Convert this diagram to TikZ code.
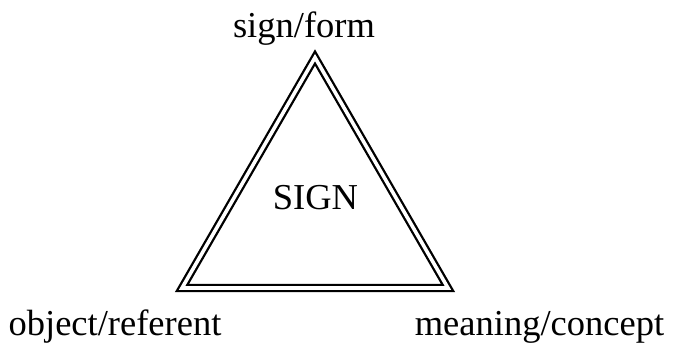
\documentclass[tikz,border=0pt]{standalone}
\usepackage{fontspec}
\setmainfont{Liberation Serif}
\usetikzlibrary{positioning}
\tikzset{
  corner/.style = {anchor=base, inner sep=0pt, font=\fontsize{36.5}{44}\selectfont},
  edge/.style   = {draw=black, double=white, line width=2.3pt, double distance=3.6pt, line join=miter},
}
\begin{document}
\begin{tikzpicture}[x=1pt,y=-1pt]
    \useasboundingbox (0,0) rectangle (675,350);
    \coordinate (top) at (315,57.5);
    \coordinate (left) at (182,288);
    \coordinate (right) at (448,288);
    \draw[edge] (top) -- (left) -- (right) -- cycle;
    \node[corner] (form) at (304,38) {sign/form};
    \node[corner] (referent) at (115,335) {object/referent};
    \node[corner] (concept) at (539.5,335) {meaning/concept};
    \node[corner] (sign) at (315.5,210) {SIGN};
  \end{tikzpicture}
\end{document}
